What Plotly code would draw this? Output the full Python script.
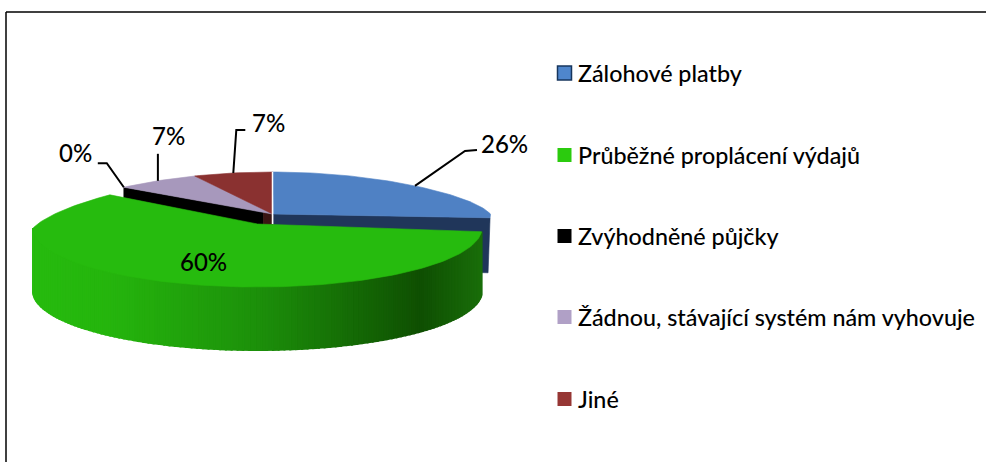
import math
import plotly.graph_objects as go

categories = ["Zálohové platby", "Průběžné proplácení výdajů", "Zvýhodněné půjčky",
              "Žádnou, stávající systém nám vyhovuje", "Jiné"]
values = [26, 60, 0, 7, 7]
labels = ["26%", "60%", "0%", "7%", "7%"]
colors = ["#4F81C4", "#26BB0E", "#000000", "#A798BC", "#8A3130"]
legend_colors = ["#4F86CC", "#2BCB0E", "#000000", "#B0A0C6", "#963634"]

W, H = 986, 462
FONT = "Lato"
CX, CY, RX, RYB, RYF = 272.5, 214.0, 218.0, 42.0, 60.0
GX, GY, GRX, GRYB, GRYF = 257.5, 228.0, 224.5, 52.0, 59.0
DEPTH = 55.0
GDEPTH = 63.0

total = sum(values)
edges = [0.0]
for v in values:
    edges.append(edges[-1] + v / total * 360.0)


def pt(deg, cx=CX, cy=CY, rx=RX, ryb=RYB, ryf=RYF, persp=0.18):
    t = math.radians(deg)
    c = math.cos(t)
    s = 1 - persp * max(c, 0)
    ry = ryb if c > 0 else ryf
    return cx + rx * math.sin(t) * s, cy - ry * c


def arc(a, b, **kw):
    n = max(2, int(abs(b - a) / 1.5))
    return [pt(a + (b - a) * i / n, **kw) for i in range(n + 1)]


G = dict(cx=GX, cy=GY, rx=GRX, ryb=GRYB, ryf=GRYF, persp=0.23)
fig = go.Figure()


def poly(points, color, name=None, lw=0.6):
    fig.add_trace(go.Scatter(
        x=[p[0] for p in points] + [points[0][0]],
        y=[p[1] for p in points] + [points[0][1]],
        mode="lines", fill="toself", fillcolor=color,
        line=dict(color=color, width=lw),
        hoverinfo="skip" if name is None else "name", name=name or "", showlegend=False))


def lerp_hex(c1, c2, f):
    a = [int(c1[i:i + 2], 16) for i in (1, 3, 5)]
    b = [int(c2[i:i + 2], 16) for i in (1, 3, 5)]
    return "#%02x%02x%02x" % tuple(round(x + (y - x) * f) for x, y in zip(a, b))


def green_wall_color(x):
    stops = [(30, "#26BB0E"), (110, "#25B50D"), (260, "#1C8F0A"), (420, "#0F4F02"), (485, "#1A700A")]
    for (x0, c0), (x1, c1) in zip(stops, stops[1:]):
        if x <= x1:
            return lerp_hex(c0, c1, max(0, (x - x0) / (x1 - x0)))
    return stops[-1][1]


# back slices: blue cut face, black wall, then tops
e1, e2, e3, e4 = edges[1], edges[2], edges[3], edges[4]
cor = pt(e1)
poly([(CX + 1, CY), cor, (cor[0] - 2, cor[1] + DEPTH), (CX + 1, CY + DEPTH)], "#20365A")
left = pt(e3)
poly([left, (CX - 9, CY - 2), (CX - 9, CY + DEPTH), (left[0], left[1] + DEPTH)], "#000000")
poly([(CX - 9, CY - 2), (CX, CY), (CX, CY + DEPTH), (CX - 9, CY + DEPTH)], "#3A1413")

poly([(CX + 1, CY)] + arc(0, e1), colors[0], categories[0])
poly([(CX, CY)] + arc(e3, e4), colors[3], categories[3])
poly([(CX, CY)] + arc(e4, e4 + values[4] / total * 360.0), colors[4], categories[4])

# green wall, as narrow strips shaded along the front
seg = 1.5
a = e1
while a < 270:
    b = min(a + seg, 270)
    p, q = pt(a, **G), pt(b, **G)
    poly([p, q, (q[0], q[1] + GDEPTH), (p[0], p[1] + GDEPTH)], green_wall_color((p[0] + q[0]) / 2), lw=2)
    a = b
a = 270
while a < e2 - 40:
    b = a + seg
    p, q = pt(a, **G), pt(b, **G)
    poly([p, q, (q[0], q[1] + 20), (p[0], p[1] + 20)], colors[1])
    a = b
poly([(GX, GY - 4)] + arc(e1, e2, **G), colors[1], categories[1])

# separator between the two back slices
fig.add_trace(go.Scatter(x=[CX, CX], y=[CY - RYB, CY + 10], mode="lines",
                         line=dict(color="#FFFFFF", width=1.5), hoverinfo="skip", showlegend=False))

# leader lines, from the slice rim out to the label
mid = [(edges[i] + edges[i + 1]) / 2 for i in range(5)]
leaders = [
    (0, [(0, 0), (50, -35), (62, -36)], (504, 143)),
    (2, [(0, 0), (-17, -24), (-26, -24)], (75, 152)),
    (3, [(0, 0), (0, -27)], (168, 135)),
    (4, [(0, 0), (3, -43), (12, -43)], (268, 122)),
]
for idx, offs, (tx, ty) in leaders:
    ax, ay = pt(mid[idx] if idx != 0 else 48.0)
    fig.add_trace(go.Scatter(x=[ax + o[0] for o in offs], y=[ay + o[1] for o in offs], mode="lines",
                             line=dict(color="#000000", width=2), hoverinfo="skip", showlegend=False))
    fig.add_annotation(x=tx, y=ty, text=labels[idx], showarrow=False,
                       font=dict(family=FONT, size=24, weight=500, color="#000000"))
fig.add_annotation(x=203, y=261, text=labels[1], showarrow=False,
                   font=dict(family=FONT, size=24, weight=500, color="#000000"))

# legend
legend_y = [73, 155, 236, 317, 399]
for name, c, y in zip(categories, legend_colors, legend_y):
    fig.add_trace(go.Scatter(
        x=[564.5], y=[y], mode="markers",
        marker=dict(symbol="square", size=14, color=c,
                    line=dict(color="#17365D" if c == legend_colors[0] else c, width=1.5 if c == legend_colors[0] else 0)),
        hoverinfo="skip", showlegend=False))
    fig.add_annotation(x=576, y=y - 0.5, text=name, showarrow=False, xanchor="left",
                       font=dict(family=FONT, size=23.3, weight=500, color="#000000"))

fig.update_layout(
    width=W, height=H, margin=dict(l=0, r=0, t=0, b=0),
    paper_bgcolor="#FFFFFF", plot_bgcolor="#FFFFFF", showlegend=False,
    xaxis=dict(range=[0, W], visible=False, fixedrange=True),
    yaxis=dict(range=[H, 0], visible=False, fixedrange=True),
    shapes=[
        dict(type="line", xref="x", yref="y", x0=6, x1=6, y0=12, y1=H, line=dict(color="#000000", width=1.5)),
        dict(type="line", xref="x", yref="y", x0=6, x1=W, y0=12, y1=12, line=dict(color="#000000", width=1.5)),
    ],
)
fig.write_html("out.html", config={"displayModeBar": False},
               post_script="document.body.style.margin='0';document.documentElement.style.overflow='hidden';")
